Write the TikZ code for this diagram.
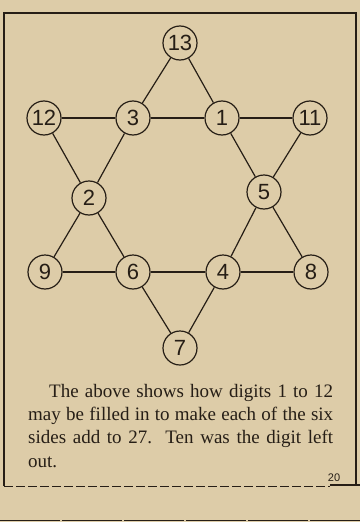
\documentclass[tikz,border=0pt]{standalone}
\usepackage{fontspec}
\setmainfont{Liberation Serif}
\newfontfamily\digitfont{Liberation Sans}
\usepackage{xcolor}
\definecolor{papertan}{RGB}{221,204,168}
\definecolor{inkbrown}{RGB}{38,30,22}

\begin{document}
\begin{tikzpicture}[x=1pt, y=-1pt,
    numring/.style={circle, draw=inkbrown, line width=1.2pt, minimum size=34pt, inner sep=0pt, text=inkbrown, font=\digitfont\fontsize{22}{22}\selectfont},
    side/.style={draw=inkbrown, line width=1.2pt}]
    % Paper and frame
    \fill[papertan] (0,0) rectangle (360,522);
    \useasboundingbox (0,0) rectangle (360,522);
    \draw[inkbrown, line width=1.2pt] (4,486) -- (4,13) -- (356,13) -- (356,486);
    \draw[inkbrown, line width=1pt, dash pattern=on 9pt off 3pt] (4,486) -- (330,486);
    \draw[inkbrown, line width=1.1pt] (330,485) -- (360,485);
    \draw[inkbrown, line width=1pt, dash pattern=on 60pt off 2pt] (0,520) -- (360,520);

    % Points of the star
    \node[numring] (n13) at (180,43) {13};
    \node[numring] (n12) at (44,118) {12};
    \node[numring] (n3) at (133,118) {3};
    \node[numring] (n1) at (222,118) {1};
    \node[numring] (n11) at (310,118) {11};
    \node[numring] (n2) at (89,198) {2};
    \node[numring] (n5) at (264,192) {5};
    \node[numring] (n9) at (45,272) {9};
    \node[numring] (n6) at (133,272) {6};
    \node[numring] (n4) at (223,272) {4};
    \node[numring] (n8) at (311,272) {8};
    \node[numring] (n7) at (180,348) {7};

    % Upward triangle
    \draw[side] (n13) -- (n3) -- (n2) -- (n9);
    \draw[side] (n13) -- (n1) -- (n5) -- (n8);
    \draw[side] (n9) -- (n6) -- (n4) -- (n8);
    % Downward triangle
    \draw[side] (n12) -- (n3) -- (n1) -- (n11);
    \draw[side] (n12) -- (n2) -- (n6) -- (n7);
    \draw[side] (n11) -- (n5) -- (n4) -- (n7);

    % Caption (base anchor sits on the last line)
    \node[anchor=base west, inner sep=0pt, align=left, text=inkbrown, font=\fontsize{19}{23.3}\selectfont] (caption) at (28,467)
        {\hspace*{21pt}\makebox[284pt][s]{The above shows how digits 1 to 12}\\
         \makebox[305pt][s]{may be filled in to make each of the six}\\
         \makebox[305pt][s]{sides add to 27.\ \ Ten was the digit left}\\
         out.};
    \node[anchor=base, inner sep=0pt, text=inkbrown, font=\digitfont\fontsize{11}{11}\selectfont] (folio) at (334,481) {20};
\end{tikzpicture}
\end{document}
